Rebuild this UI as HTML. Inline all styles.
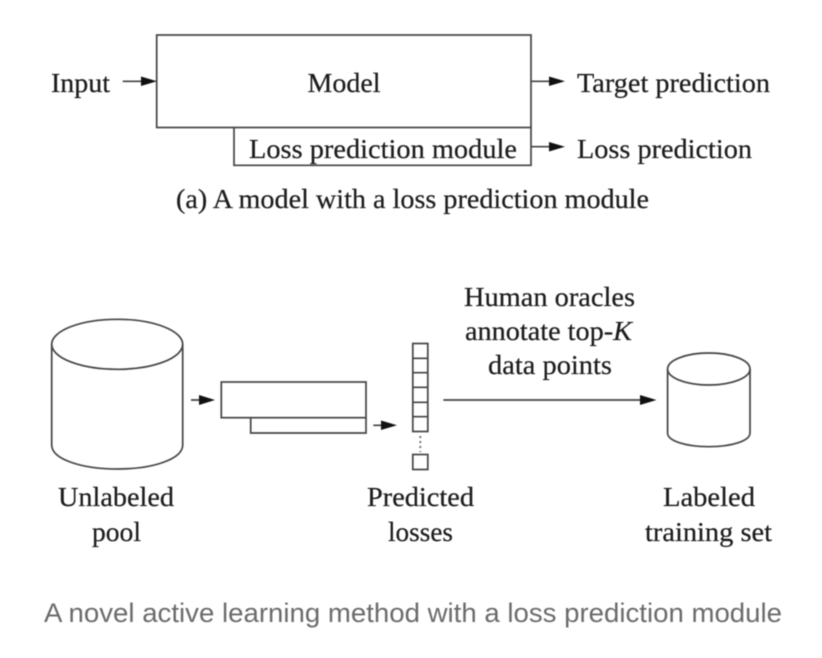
<!DOCTYPE html>
<html>
<head>
<meta charset="utf-8">
<style>
html,body{margin:0;padding:0;background:#fff;width:822px;height:658px;overflow:hidden}
svg{display:block;filter:blur(0.6px)}
text{font-family:"Liberation Serif",serif;font-size:27px;fill:#1c1c1c;stroke:#1c1c1c;stroke-width:.22px}
.l{fill:none;stroke:#444;stroke-width:1.7}
.h{fill:#111}
</style>
</head>
<body>
<svg width="822" height="658" viewBox="0 0 822 658" xmlns="http://www.w3.org/2000/svg">
<rect class="l" x="156.7" y="35" width="374.3" height="92.5"/>
<path class="l" d="M234 127.5V165.3H531V127.5"/>
<path class="l" d="M122.7 81.3H145M531 81.3H552M531 146.7H552"/>
<path class="h" d="M141 76.5L157 81.3L141 86ZM549 76.5L565 81.3L549 86ZM549 142L565 146.7L549 151.5Z"/>
<text x="51" y="92" textLength="59" lengthAdjust="spacingAndGlyphs">Input</text>
<text x="307.5" y="92" textLength="73" lengthAdjust="spacingAndGlyphs">Model</text>
<text x="577" y="92" textLength="193" lengthAdjust="spacingAndGlyphs">Target prediction</text>
<text x="249" y="158" textLength="268" lengthAdjust="spacingAndGlyphs">Loss prediction module</text>
<text x="577" y="158" textLength="175" lengthAdjust="spacingAndGlyphs">Loss prediction</text>
<text x="176" y="208" textLength="473" lengthAdjust="spacingAndGlyphs">(a) A model with a loss prediction module</text>

<ellipse class="l" cx="117.2" cy="344.3" rx="65.5" ry="25"/>
<path class="l" d="M51.7 344.3V445C51.7 459 81 469 117.2 469S182.7 459 182.7 445V344.3"/>
<path class="l" d="M191 400H202M373.3 425.3H385M443.3 400H645"/>
<path class="h" d="M199 395L215 400L199 405ZM381 420.5L397 425.3L381 430ZM640 395L656.5 400L640 405Z"/>
<rect class="l" x="221.3" y="382" width="144.7" height="35.7"/>
<path class="l" d="M250.7 417.7V433H366V417.7"/>
<rect class="l" x="412.8" y="343.5" width="15" height="88"/>
<path class="l" d="M412.8 358.3H427.8M412.8 372.7H427.8M412.8 387.3H427.8M412.8 402.3H427.8M412.8 416.7H427.8"/>
<path d="M420.3 436V452" fill="none" stroke="#666" stroke-width="1.8" stroke-dasharray="2 3"/>
<rect class="l" x="412.8" y="454.5" width="15" height="15"/>

<ellipse class="l" cx="708.8" cy="369" rx="41.2" ry="16"/>
<path class="l" d="M667.6 369V433C667.6 441 686 446.7 708.8 446.7S750 441 750 433V369"/>

<text x="464" y="306" textLength="171" lengthAdjust="spacingAndGlyphs">Human oracles</text>
<text x="465" y="340" textLength="167" lengthAdjust="spacingAndGlyphs">annotate top-<tspan font-style="italic">K</tspan></text>
<text x="488" y="374" textLength="124" lengthAdjust="spacingAndGlyphs">data points</text>
<text x="58" y="506" textLength="116" lengthAdjust="spacingAndGlyphs">Unlabeled</text>
<text x="92" y="541" textLength="49" lengthAdjust="spacingAndGlyphs">pool</text>
<text x="367" y="506" textLength="107" lengthAdjust="spacingAndGlyphs">Predicted</text>
<text x="388" y="541" textLength="65" lengthAdjust="spacingAndGlyphs">losses</text>
<text x="663" y="506" textLength="92" lengthAdjust="spacingAndGlyphs">Labeled</text>
<text x="645" y="541" textLength="127" lengthAdjust="spacingAndGlyphs">training set</text>
<text x="44" y="622" textLength="738" lengthAdjust="spacingAndGlyphs" style="font-family:'Liberation Sans',sans-serif;font-size:26.5px;fill:#6b6b6b;stroke:none">A novel active learning method with a loss prediction module</text>
</svg>
</body>
</html>
